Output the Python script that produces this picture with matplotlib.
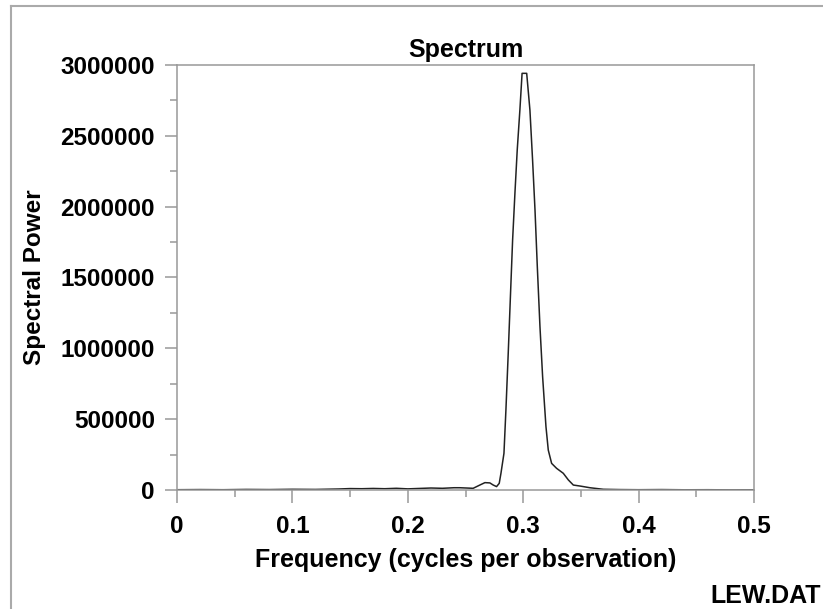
import matplotlib
matplotlib.use("Agg")
import matplotlib.pyplot as plt
from matplotlib.lines import Line2D
from matplotlib.ticker import MultipleLocator

# spectrum
freq = [0.000, 0.020, 0.040, 0.060, 0.080, 0.100, 0.120, 0.140, 0.150, 0.160,
        0.170, 0.180, 0.190, 0.200, 0.210, 0.220, 0.230, 0.240, 0.245, 0.2566,
        0.2624, 0.2668, 0.2711, 0.2740, 0.2769, 0.2792, 0.2807, 0.2833, 0.2850, 0.2870,
        0.2890, 0.2908, 0.2928, 0.2948, 0.2971, 0.2990, 0.3030, 0.3058, 0.3081, 0.3102,
        0.3122, 0.3145, 0.3168, 0.3197, 0.3217, 0.3246, 0.3289, 0.3347, 0.3391, 0.3434,
        0.3492, 0.3578, 0.3694, 0.3839, 0.400, 0.420, 0.440, 0.460, 0.480, 0.500]
power = [2000, 3000, 2000, 4000, 3000, 5000, 4000, 7000, 10000, 9000,
         11000, 9000, 12000, 8000, 11000, 14000, 12000, 16000, 16000, 12000,
         35000, 52000, 50000, 35000, 24000, 47000, 118000, 259000, 565000, 965000,
         1388000, 1765000, 2094000, 2400000, 2682000, 2941000, 2941000, 2682000, 2329000, 1976000,
         1576000, 1153000, 800000, 447000, 282000, 188000, 153000, 118000, 71000, 35000,
         28000, 16000, 5000, 3000, 2000, 3000, 1500, 2000, 1000, 1500]

x_ticks = [0, 0.1, 0.2, 0.3, 0.4, 0.5]
x_labels = ["0", "0.1", "0.2", "0.3", "0.4", "0.5"]
y_ticks = [0, 500000, 1000000, 1500000, 2000000, 2500000, 3000000]

plt.rcParams['font.family'] = ['Liberation Sans', 'DejaVu Sans']
plt.rcParams['font.weight'] = 'bold'

fig = plt.figure(figsize=(8.23, 6.09), dpi=100)
ax = fig.add_axes([0.2151, 0.1954, 0.7011, 0.6979])

ax.plot(freq, power, color='#222222', lw=1.1)

ax.set_xlim(0, 0.5)
ax.set_ylim(0, 3000000)
ax.set_xticks(x_ticks)
ax.set_xticklabels(x_labels)
ax.set_yticks(y_ticks)
ax.set_yticklabels([str(v) for v in y_ticks])
ax.xaxis.set_minor_locator(MultipleLocator(0.05))
ax.yaxis.set_minor_locator(MultipleLocator(250000))

gray = '#999999'
for s in ax.spines.values():
    s.set_color(gray)
    s.set_linewidth(1.1)
ax.tick_params(which='major', length=9, width=1.1, color=gray, labelsize=17.5, direction='out')
ax.tick_params(which='minor', length=4.8, width=1.1, color=gray, direction='out')
ax.tick_params(axis='x', which='major', pad=9)
ax.tick_params(axis='y', which='major', pad=7)
for lab in ax.get_xticklabels() + ax.get_yticklabels():
    lab.set_fontweight('bold')

ax.set_title("Spectrum", fontsize=18, fontweight='bold', pad=6)
ax.set_xlabel("Frequency (cycles per observation)", fontsize=18, fontweight='bold', labelpad=7)
ax.set_ylabel("Spectral Power", fontsize=17.5, fontweight='bold', labelpad=10)

# file name in the lower right corner
fig.text(0.998, 1 / 609, "LEW.DAT", fontsize=18, fontweight='bold', va='bottom', ha='right')

# gray frame round the picture (top and left edges)
fig.add_artist(Line2D([11 / 823, 1.0], [1 - 5.5 / 609, 1 - 5.5 / 609], transform=fig.transFigure,
                      color='#aaaaaa', lw=1.5))
fig.add_artist(Line2D([11 / 823, 11 / 823], [0.0, 1 - 5.5 / 609], transform=fig.transFigure,
                      color='#aaaaaa', lw=1.5))

fig.savefig("out.png", dpi=100)
